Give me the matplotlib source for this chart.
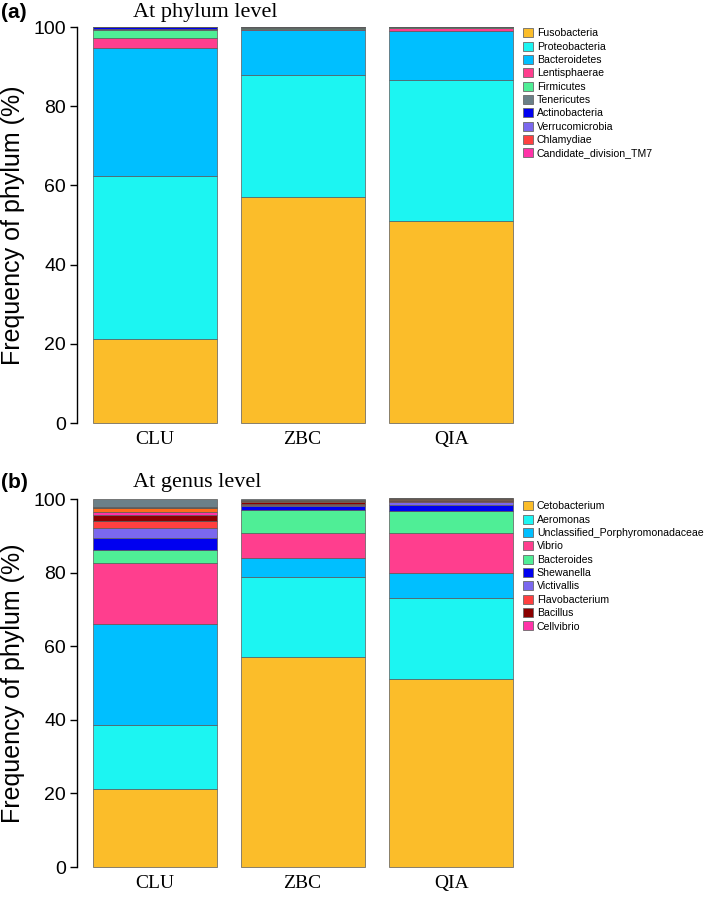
import matplotlib
matplotlib.use("Agg")
import matplotlib.pyplot as plt
from matplotlib.patches import Patch
import numpy as np

samples = ["CLU", "ZBC", "QIA"]

phyla = ["Fusobacteria", "Proteobacteria", "Bacteroidetes", "Lentisphaerae", "Firmicutes",
         "Tenericutes", "Actinobacteria", "Verrucomicrobia", "Chlamydiae", "Candidate_division_TM7"]
phylum_CLU = [21.1, 41.3, 32.4, 2.4, 2.1, 0.2, 0.4, 0.03, 0.03, 0.04]
phylum_ZBC = [57.1, 30.8, 11.3, 0.3, 0.2, 0.2, 0.03, 0.03, 0.02, 0.02]
phylum_QIA = [51.0, 35.6, 12.3, 0.9, 0.1, 0.05, 0.02, 0.01, 0.01, 0.01]
phylum_colors = ["#FBBD2A", "#1CF5F2", "#00BFFF", "#FF3E8E", "#4FEE96",
                 "#6B8088", "#0000F0", "#7B68EE", "#FF4040", "#FF33A8"]

genera = ["Cetobacterium", "Aeromonas", "Unclassified_Porphyromonadaceae", "Vibrio", "Bacteroides",
          "Shewanella", "Victivallis", "Flavobacterium", "Bacillus", "Cellvibrio",
          "Other_1", "Other_2", "Other_3"]
genus_CLU = [21.2, 17.4, 27.4, 16.6, 3.6, 3.3, 2.6, 2.0, 1.5, 1.0, 0.9, 0.4, 2.1]
genus_ZBC = [57.1, 21.8, 5.2, 6.7, 6.1, 1.1, 0.45, 0.3, 0.3, 0.2, 0.3, 0.3, 0.15]
genus_QIA = [51.1, 22.0, 6.8, 10.9, 5.9, 1.8, 0.7, 0.2, 0.2, 0.1, 0.2, 0.3, 0.1]
genus_colors = ["#FBBD2A", "#1CF5F2", "#00BFFF", "#FF3E8E", "#4FEE96",
                "#0000F0", "#7B68EE", "#FF4040", "#8B0000", "#FF33A8",
                "#FF6A1A", "#6B3A1A", "#6B8088"]
n_genus_legend = 10

W, H = 709, 922
fig = plt.figure(figsize=(W / 100, H / 100), dpi=100)

sans = ["Liberation Sans", "DejaVu Sans"]
serif = ["Liberation Serif", "DejaVu Serif"]

xpos = np.array([0.0, 1.19, 2.39])


def panel(rect, names, data, colors, n_leg, leg_y):
    ax = fig.add_axes(rect)
    mat = np.array(data)  # samples x categories
    bottoms = np.zeros(len(samples))
    for j in range(mat.shape[1]):
        ax.bar(xpos, mat[:, j], bottom=bottoms, width=1.0, color=colors[j],
               edgecolor="#5a5a5a", linewidth=0.5, clip_on=False)
        bottoms += mat[:, j]
    ax.set_xlim(-0.63, 3.0)
    ax.set_ylim(0, 100)
    for s in ["top", "right", "bottom"]:
        ax.spines[s].set_visible(False)
    ax.spines["left"].set_bounds(0, 100)
    ax.spines["left"].set_linewidth(1.0)
    ax.set_yticks([0, 20, 40, 60, 80, 100])
    ax.tick_params(axis="y", length=5, width=1, labelsize=14, pad=3)
    for lab in ax.get_yticklabels():
        lab.set_family(sans)
    ax.set_xticks(xpos)
    ax.set_xticklabels(samples, family=serif, fontsize=14)
    ax.tick_params(axis="x", length=0, pad=6)
    ax.set_ylabel("Frequency of phylum (%)", family=sans, fontsize=18, labelpad=6)
    handles = [Patch(facecolor=colors[j], edgecolor="#6a6a6a", linewidth=0.6, label=names[j])
               for j in range(n_leg)]
    fig.legend(handles=handles, loc="upper left", bbox_to_anchor=(519 / W, leg_y),
               frameon=False, prop={"family": sans, "size": 7.6},
               handlelength=0.95, handleheight=0.95, handletextpad=0.35,
               labelspacing=0.3, borderaxespad=0)
    return ax


ax1 = panel([77 / W, 1 - 423 / H, 450 / W, 396 / H], phyla,
            [phylum_CLU, phylum_ZBC, phylum_QIA], phylum_colors, 10, 1 - 24 / H)
ax2 = panel([77 / W, 1 - 867 / H, 450 / W, 368 / H], genera,
            [genus_CLU, genus_ZBC, genus_QIA], genus_colors, n_genus_legend, 1 - 497 / H)
fig.align_ylabels([ax1, ax2])

fig.text(133 / W, 1 - 12 / H, "At phylum level", family=serif, fontsize=16, va="center", ha="left")
fig.text(133 / W, 1 - 482 / H, "At genus level", family=serif, fontsize=16, va="center", ha="left")
fig.text(1 / W, 1 - 13 / H, "(a)", family=sans, fontsize=15, fontweight="bold", va="center", ha="left")
fig.text(1 / W, 1 - 482 / H, "(b)", family=sans, fontsize=15, fontweight="bold", va="center", ha="left")

fig.savefig("out.png", dpi=100)
